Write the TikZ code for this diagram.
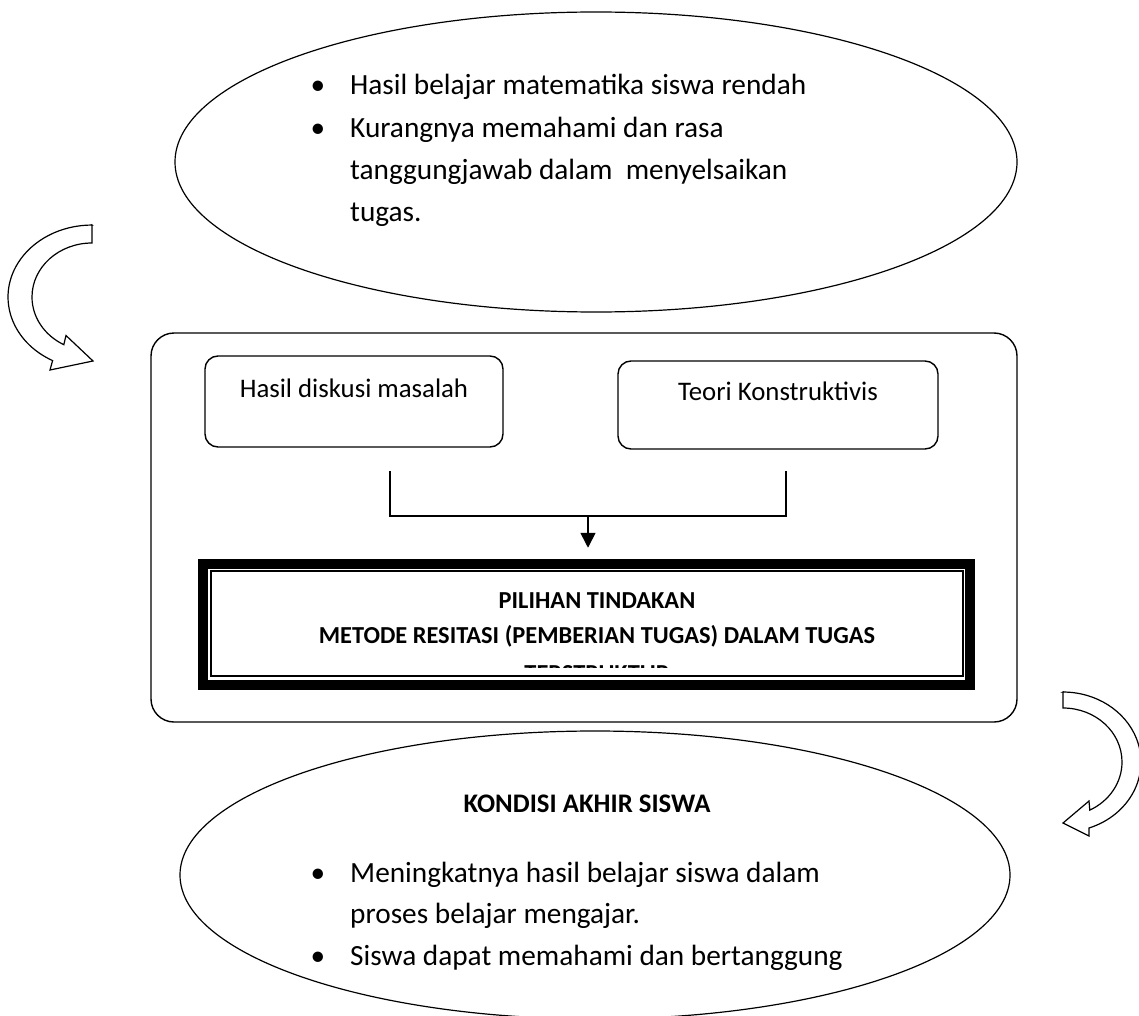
\documentclass[tikz,border=0pt]{standalone}
\usepackage{fontspec}
\setmainfont{Carlito}
\usetikzlibrary{arrows.meta,shapes.geometric,calc}
\newcommand\fbig{\fontsize{29.3}{42.5}\selectfont}
\newcommand\fmid{\fontsize{26.8}{40}\selectfont}
\newcommand\fsml{\fontsize{24.4}{36.5}\selectfont}
\tikzset{
  oval/.style ={ellipse,draw,line width=1.2pt,inner sep=0pt},
  frame/.style={draw,rounded corners=23pt,line width=1.4pt,inner sep=0pt},
  blk/.style  ={draw,rounded corners=13pt,line width=1.4pt,inner sep=0pt},
  txt/.style  ={font=\fbig,inner sep=0pt,anchor=base west},
  dot/.style  ={font=\fbig,inner sep=0pt,anchor=base},
  lbl/.style  ={font=\fmid,inner sep=0pt,anchor=base},
  hd/.style   ={inner sep=0pt,anchor=base},
  wire/.style ={line width=1.6pt},
  sig/.style  ={wire,-{Triangle[length=15pt,width=15pt]}},
  curl/.style ={draw,fill=white,line width=1.2pt,line join=miter},
}

\begin{document}
\begin{tikzpicture}[x=1pt,y=-1pt]
\useasboundingbox (0,0) rectangle (1139,1016);

% starting condition
\node[oval,minimum width=842pt,minimum height=300pt] (awal) at (596,162) {};
\node[dot] (d1) at (318,94.5) {•};
\node[txt] (a1) at (350,94.5) {Hasil belajar matematika siswa rendah};
\node[dot] (d2) at (318,137.5) {•};
\node[txt] (a2) at (350,137.5) {Kurangnya memahami dan rasa};
\node[txt] (a3) at (350,179.5) {tanggungjawab dalam \ menyelsaikan};
\node[txt] (a4) at (350,221.5) {tugas.};

% curved arrow, left
\draw[curl] (92,225) -- (92,243)
  arc[start angle=270,end angle=118,x radius=60,y radius=54]
  -- (66,335.5) -- (93,361) -- (50,370) -- (52.6,360.6)
  arc[start angle=118,end angle=270,x radius=84,y radius=72] -- cycle;

% action frame
\node[frame,minimum width=866pt,minimum height=389pt] (kerangka) at (584,527.5) {};
\node[blk,minimum width=298pt,minimum height=91pt] (hasil) at (354,401.5) {};
\node[lbl] (hasilT) at (354,397) {Hasil diskusi masalah};
\node[blk,minimum width=320pt,minimum height=88pt] (teori) at (778,405) {};
\node[lbl] (teoriT) at (778,400.5) {Teori Konstruktivis};

\coordinate (kiri)  at (390,471);
\coordinate (kanan) at (786,471);
\coordinate (temu)  at (588,516);
\draw[wire] (kiri) |- (temu) -| (kanan);

\node[draw,line width=10pt,inner sep=0pt,outer sep=5pt,
      minimum width=767pt,minimum height=121pt] (pilihan) at (586.5,624.25) {};
\node[draw,line width=2pt,inner sep=0pt,
      minimum width=752pt,minimum height=105pt] (pilihanIn) at (587,623.5) {};
\draw[sig,shorten >=11pt] (temu) -- (temu |- pilihan.north);

\node[hd,font=\fsml\bfseries] (p1) at (597,608) {PILIHAN TINDAKAN};
\node[hd,font=\fsml\bfseries] (p2) at (597,643) {METODE RESITASI (PEMBERIAN TUGAS) DALAM TUGAS};
\begin{scope}
  \clip (211,571) rectangle (963,667.5);
  \node[hd,font=\fsml\bfseries] (p3) at (597,681) {TERSTRUKTUR};
\end{scope}

% curved arrow, right
\draw[curl] (1063,692) -- (1063,708)
  arc[start angle=-90,end angle=63,x radius=59,y radius=54]
  -- (1089,801) -- (1063,823) -- (1089,836) -- (1089,828)
  arc[start angle=70.5,end angle=-90,x radius=78,y radius=70] -- cycle;

% final condition
\node[oval,minimum width=830pt,minimum height=288pt] (akhir) at (595,875) {};
\node[hd,font=\fmid\bfseries] (k0) at (587,812) {KONDISI AKHIR SISWA};
\node[dot] (d3) at (318,882) {•};
\node[txt] (k1) at (350,882) {Meningkatnya hasil belajar siswa dalam};
\node[txt] (k2) at (350,923) {proses belajar mengajar.};
\node[dot] (d4) at (318,965) {•};
\node[txt] (k3) at (350,965) {Siswa dapat memahami dan bertanggung};
\end{tikzpicture}
\end{document}
